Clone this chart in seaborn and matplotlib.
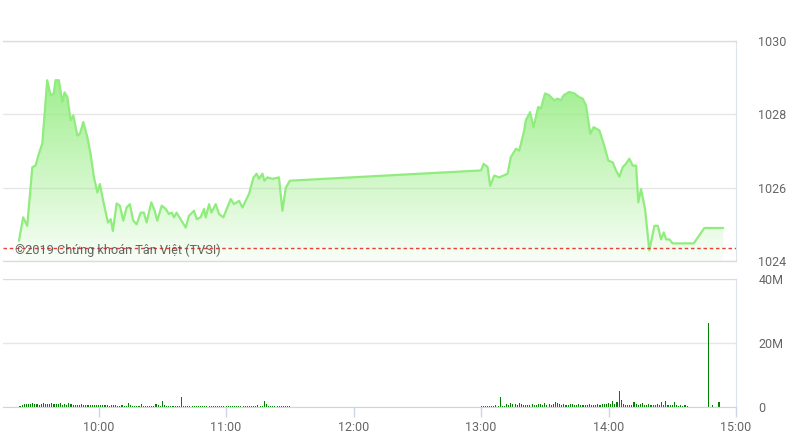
import numpy as np
import pandas as pd
import matplotlib
matplotlib.use("Agg")
import matplotlib.pyplot as plt
from matplotlib.colors import LinearSegmentedColormap
import seaborn as sns

# ===============================
# Data (minutes after 09:00)
# ===============================
price_min = [22.5, 24.5, 26.4, 28.8, 30.3, 31.9, 33.5, 35.8, 37.4, 38.9,
             39.7, 41.3, 42.9, 44.0, 45.3, 46.8, 48.1, 50.0, 51.2, 52.8,
             54.7, 56.2, 57.8, 59.4, 60.6, 62.5, 64.4, 65.7, 66.7, 68.5,
             70.0, 71.6, 73.2, 74.7, 76.3, 77.9, 79.8, 81.3, 82.6, 84.8,
             86.4, 87.6, 89.7, 91.6, 93.1, 94.4, 95.5, 96.7, 98.6, 101.0,
             102.5, 104.9, 106.2, 108.0, 109.6, 110.4, 112.0, 113.1, 115.1, 116.7,
             118.7, 120.6, 122.2, 123.7, 126.1, 127.7, 130.8, 132.9, 134.4, 135.5,
             137.1, 138.0, 139.5, 141.8, 144.9, 146.5, 148.1, 150.0,
             240.0, 241.2, 243.1, 244.3, 246.2, 248.6, 252.5, 254.0, 256.4, 258.0,
             260.3, 261.1, 263.1, 264.7, 266.9, 268.2, 270.1, 272.1, 274.4, 276.0,
             277.6, 278.9, 281.5, 283.9, 286.2, 287.8, 289.4, 291.4, 293.0, 295.7,
             297.7, 299.9, 302.0, 303.5, 305.1, 306.7, 308.2, 309.8, 311.4, 313.0,
             314.0, 315.3, 317.2, 319.2, 321.6, 323.2, 324.7, 326.0, 327.1, 328.6,
             330.2, 340.1, 345.1, 354.0]

price_val = [1024.55, 1025.19, 1024.96, 1026.56, 1026.6, 1026.93, 1027.2, 1028.93, 1028.52, 1028.57,
             1028.93, 1028.93, 1028.34, 1028.6, 1028.47, 1027.84, 1027.97, 1027.42, 1027.47, 1027.79,
             1027.38, 1026.93, 1026.28, 1025.87, 1026.1, 1025.55, 1025.05, 1025.14, 1024.82, 1025.57,
             1025.51, 1025.1, 1025.46, 1025.55, 1025.1, 1025.0, 1025.32, 1025.32, 1025.05, 1025.6,
             1025.37, 1025.1, 1025.51, 1025.42, 1025.28, 1025.32, 1025.19, 1025.32, 1025.14, 1024.91,
             1025.23, 1025.37, 1025.14, 1025.19, 1025.42, 1025.19, 1025.55, 1025.32, 1025.55, 1025.28,
             1025.19, 1025.46, 1025.69, 1025.55, 1025.64, 1025.46, 1025.83, 1026.28, 1026.38, 1026.24,
             1026.38, 1026.19, 1026.28, 1026.24, 1026.28, 1025.37, 1026.0, 1026.19,
             1026.47, 1026.65, 1026.56, 1026.05, 1026.33, 1026.28, 1026.38, 1026.83, 1027.06, 1027.01,
             1027.56, 1027.84, 1028.06, 1027.65, 1028.2, 1028.16, 1028.57, 1028.52, 1028.38, 1028.43,
             1028.38, 1028.52, 1028.61, 1028.57, 1028.47, 1028.43, 1028.25, 1027.47, 1027.65, 1027.56,
             1027.2, 1026.74, 1026.69, 1026.47, 1026.3, 1026.56, 1026.65, 1026.79, 1026.6, 1026.6,
             1025.6, 1025.96, 1025.42, 1024.29, 1024.96, 1024.96, 1024.59, 1024.78, 1024.59, 1024.59,
             1024.48, 1024.48, 1024.9, 1024.9]

ref_price = 1024.35

# volume in millions, one bar per minute
am_start = 23
vol_am = [0.3, 0.6, 0.9, 0.8, 1.0, 0.9, 1.3, 0.8, 1.0, 0.7,
          0.9, 1.1, 0.8, 1.0, 0.9, 1.2, 0.9, 0.8, 1.0, 1.1,
          0.7, 0.9, 0.6, 1.2, 0.8, 0.5, 0.7, 0.6, 0.5, 0.8,
          0.6, 0.5, 0.7, 0.6, 0.5, 0.6, 0.5, 0.7, 0.6, 0.5,
          0.5, 0.6, 0.4, 0.5, 0.6, 0.5, 0.4, 0.4, 0.5, 0.3,
          0.4, 1.1, 0.5, 0.4, 0.4, 0.3, 0.4, 1.0, 0.4, 0.3,
          0.3, 0.4, 0.3, 0.4, 1.0, 0.6, 0.4, 1.8, 0.5, 0.3,
          0.2, 0.3, 0.2, 0.4, 0.3, 0.2, 3.2, 0.4, 0.3, 0.2,
          0.3, 0.2, 0.3, 0.2, 0.3, 0.2, 0.3, 0.4, 0.2, 0.3,
          0.2, 0.3, 0.2, 0.3, 0.2, 0.3, 0.2, 0.3, 0.2, 0.3,
          0.3, 0.2, 0.3, 0.2, 0.3, 0.4, 0.3, 0.2, 0.3, 0.4,
          0.3, 0.4, 0.5, 0.3, 0.4, 1.9, 0.9, 0.4, 0.3, 0.2,
          0.3, 0.2, 0.3, 0.2, 0.3, 0.2, 0.2, 0.3]
pm_start = 240
vol_pm = [0.3, 0.3, 0.4, 0.3, 0.3, 0.4, 0.3, 0.5, 0.4, 3.2,
          0.4, 0.3, 0.9, 0.5, 1.1, 1.0, 0.9, 0.6, 1.1, 0.8,
          0.6, 0.5, 0.7, 0.5, 0.9, 0.6, 0.5, 1.0, 0.8, 0.6,
          1.2, 0.7, 1.0, 0.6, 0.8, 1.7, 1.2, 0.9, 0.6, 0.8,
          0.7, 0.6, 0.9, 1.0, 0.7, 0.6, 0.8, 0.6, 0.5, 0.7,
          0.6, 0.8, 0.5, 0.7, 0.6, 0.8, 0.7, 1.0, 0.9, 0.8,
          1.2, 1.0, 1.9, 0.8, 1.6, 4.9, 2.1, 0.8, 0.7, 0.6,
          0.7, 0.6, 1.6, 0.8, 0.6, 0.9, 1.3, 0.6, 0.7, 0.8,
          0.6, 0.7, 0.6, 0.9, 0.7, 1.6, 0.6, 1.8, 0.6, 0.7,
          0.5, 1.5, 0.6, 0.4, 0.5, 0.3, 0.6, 0.4]
close_min = [347, 349, 352]
vol_close = [26.2, 0.5, 1.6]

hour_ticks = [60, 120, 180, 240, 300, 360]
hour_labels = ["10:00", "11:00", "12:00", "13:00", "14:00", "15:00"]
price_ticks = [1024, 1026, 1028, 1030]
vol_ticks = [0, 20, 40]
vol_labels = ["0", "20M", "40M"]

# ===============================
# Style
# ===============================
sns.set_style("white")
plt.rcParams["font.family"] = ["Roboto", "DejaVu Sans"]

LINE = "#90ed7d"
GRID = "#e6e6e6"
AXIS = "#ccd6eb"
LABEL = "#666666"

price_df = pd.DataFrame({"t": price_min, "p": price_val})
vol_df = pd.DataFrame({
    "t": list(np.arange(am_start, am_start + len(vol_am))) +
         list(np.arange(pm_start, pm_start + len(vol_pm))) + close_min,
    "v": vol_am + vol_pm + vol_close,
})

fig = plt.figure(figsize=(7.94, 4.46), dpi=100)
ax1 = fig.add_axes([3 / 794, 1 - 261 / 446, 733 / 794, 220 / 446])
ax2 = fig.add_axes([3 / 794, 1 - 407 / 446, 733 / 794, 128 / 446])

# ===============================
# Price panel
# ===============================
poly = ax1.fill_between(price_df["t"], price_df["p"], 1024, color="none", lw=0)
cmap = LinearSegmentedColormap.from_list(
    "grad", [(0.565, 0.929, 0.490, 0.06), (0.565, 0.929, 0.490, 0.9)])
grad = np.linspace(0, 1, 256).reshape(-1, 1)
img = ax1.imshow(grad, extent=[15, 360, 1024, 1029.2], origin="lower",
                 aspect="auto", cmap=cmap, zorder=1)
img.set_clip_path(poly.get_paths()[0], transform=ax1.transData)

sns.lineplot(data=price_df, x="t", y="p", ax=ax1, color=LINE, lw=1.6,
             estimator=None, sort=False, zorder=3)
ax1.axhline(ref_price, color="#e8413a", lw=1.0, ls=(0, (2.5, 2)), zorder=4)

ax1.text(0.016, 0.05, "©2019 Chứng khoán Tân Việt (TVSI)", transform=ax1.transAxes,
         fontsize=9.2, color="#555555", alpha=0.9, va="center", ha="left", zorder=5)

ax1.set_xlim(15, 360)
ax1.set_ylim(1024, 1030)
ax1.set_yticks(price_ticks)
ax1.set_xticks([])
ax1.yaxis.tick_right()
ax1.tick_params(axis="y", length=0, pad=16, labelsize=9, labelcolor=LABEL)
ax1.grid(axis="y", color=GRID, lw=1)
ax1.set_axisbelow(True)
ax1.set_xlabel("")
ax1.set_ylabel("")
ax1.spines["left"].set_visible(False)
for side in ["top", "bottom"]:
    ax1.spines[side].set_color("#dcdcdc")
    ax1.spines[side].set_linewidth(1)
ax1.spines["right"].set_color("#dde3ec")

# ===============================
# Volume panel
# ===============================
sns.barplot(data=vol_df, x="t", y="v", ax=ax2, native_scale=True, color="#008000",
            width=0.5, errorbar=None, linewidth=0, saturation=1)
for bar in ax2.patches:
    bar.set_antialiased(False)
ax2.set_xlim(15, 360)
ax2.set_ylim(0, 40)
ax2.set_yticks(vol_ticks)
ax2.set_yticklabels(vol_labels)
ax2.set_xticks(hour_ticks)
ax2.set_xticklabels(hour_labels)
ax2.yaxis.tick_right()
ax2.tick_params(axis="y", length=0, pad=16, labelsize=9, labelcolor=LABEL)
ax2.tick_params(axis="x", direction="out", length=7, width=1, color=AXIS,
                pad=3, labelsize=9, labelcolor=LABEL, bottom=True)
ax2.grid(axis="y", color=GRID, lw=1)
ax2.set_axisbelow(True)
ax2.set_xlabel("")
ax2.set_ylabel("")
ax2.spines["left"].set_visible(False)
ax2.spines["top"].set_color("#dcdcdc")
ax2.spines["right"].set_color("#dde3ec")
ax2.spines["bottom"].set_color(AXIS)

fig.savefig("out.png", dpi=100)
